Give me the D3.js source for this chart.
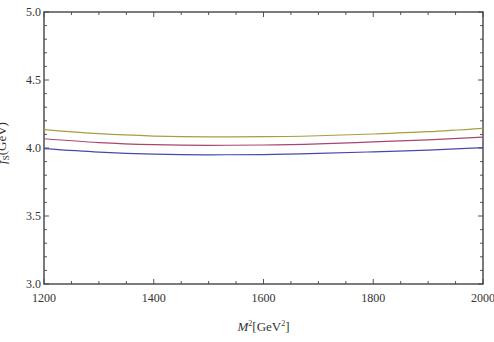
<!DOCTYPE html>
<html>
<head>
<meta charset="utf-8">
<script src="https://cdn.jsdelivr.net/npm/d3@7"></script>
<style>
  body { margin: 0; background: #fff; }
  svg text { font-family: "Liberation Serif", "DejaVu Serif", serif; fill: #333; }
</style>
</head>
<body>
<div id="chart"></div>
<script>
// M^2 sample points (GeV^2)
const massSq = [1200, 1300, 1400, 1500, 1600, 1700, 1800, 1900, 2000];
// three curves
const upperCurve = [4.135, 4.105, 4.088, 4.082, 4.083, 4.090, 4.103, 4.120, 4.145];
const middleCurve = [4.068, 4.040, 4.025, 4.020, 4.022, 4.030, 4.045, 4.060, 4.080];
const lowerCurve = [3.995, 3.970, 3.955, 3.950, 3.952, 3.960, 3.972, 3.985, 4.003];
const xTicks = [1200, 1400, 1600, 1800, 2000];
const yTicks = [3.0, 3.5, 4.0, 4.5, 5.0];

const width = 494, height = 342;
const margin = { top: 12, right: 11, bottom: 58, left: 44 };

const svg = d3.select('#chart').append('svg')
  .attr('width', width)
  .attr('height', height);

const x = d3.scaleLinear().domain([1200, 2000]).range([margin.left, width - margin.right]);
const y = d3.scaleLinear().domain([3.0, 5.0]).range([height - margin.bottom, margin.top]);

const x0 = margin.left, x1 = width - margin.right;
const y0 = height - margin.bottom, y1 = margin.top;

// minor ticks
const xMinor = d3.range(1200, 2001, 50).filter(v => v % 200 !== 0);
const yMinor = d3.range(30, 51, 1).map(v => v / 10).filter(v => Math.round(v * 10) % 5 !== 0);

const ticks = svg.append('g').attr('stroke', '#555').attr('stroke-width', 1);
xTicks.forEach(v => {
  ticks.append('line').attr('x1', x(v)).attr('x2', x(v)).attr('y1', y0).attr('y2', y0 - 5);
  ticks.append('line').attr('x1', x(v)).attr('x2', x(v)).attr('y1', y1).attr('y2', y1 + 5);
});
xMinor.forEach(v => {
  ticks.append('line').attr('x1', x(v)).attr('x2', x(v)).attr('y1', y0).attr('y2', y0 - 3);
  ticks.append('line').attr('x1', x(v)).attr('x2', x(v)).attr('y1', y1).attr('y2', y1 + 3);
});
yTicks.forEach(v => {
  ticks.append('line').attr('x1', x0).attr('x2', x0 + 5).attr('y1', y(v)).attr('y2', y(v));
  ticks.append('line').attr('x1', x1).attr('x2', x1 - 5).attr('y1', y(v)).attr('y2', y(v));
});
yMinor.forEach(v => {
  ticks.append('line').attr('x1', x0).attr('x2', x0 + 3).attr('y1', y(v)).attr('y2', y(v));
  ticks.append('line').attr('x1', x1).attr('x2', x1 - 3).attr('y1', y(v)).attr('y2', y(v));
});

// frame
svg.append('rect')
  .attr('x', x0).attr('y', y1)
  .attr('width', x1 - x0).attr('height', y0 - y1)
  .attr('fill', 'none')
  .attr('stroke', '#444')
  .attr('stroke-width', 1.4);

// tick labels
svg.selectAll('.xlab').data(xTicks).enter().append('text')
  .attr('x', d => x(d)).attr('y', y0 + 18)
  .attr('text-anchor', 'middle')
  .style('font-size', '12px')
  .text(d => d);

svg.selectAll('.ylab').data(yTicks).enter().append('text')
  .attr('x', x0 - 3).attr('y', d => y(d) + 4)
  .attr('text-anchor', 'end')
  .style('font-size', '12px')
  .text(d => d.toFixed(1));

// axis titles
const xt = svg.append('text')
  .attr('x', (x0 + x1) / 2).attr('y', y0 + 47)
  .attr('text-anchor', 'middle')
  .style('font-size', '13px');
xt.append('tspan').style('font-style', 'italic').text('M');
xt.append('tspan').attr('dy', -5).style('font-size', '8px').text('2');
xt.append('tspan').attr('dy', 5).text('[GeV');
xt.append('tspan').attr('dy', -5).style('font-size', '8px').text('2');
xt.append('tspan').attr('dy', 5).text(']');

const yt = svg.append('text')
  .attr('transform', `translate(6,${(y0 + y1) / 2 - 5}) rotate(-90)`)
  .attr('text-anchor', 'middle')
  .style('font-size', '13px');
yt.append('tspan').style('font-style', 'italic').text('f');
yt.append('tspan').attr('dy', 3).style('font-size', '9px').text('S');
yt.append('tspan').attr('dy', -3).text('(GeV)');

// curves
const series = [
  { values: upperCurve, color: '#a89d45' },
  { values: middleCurve, color: '#a8466d' },
  { values: lowerCurve, color: '#4848a8' }
];

const line = d3.line()
  .x((d, i) => x(massSq[i]))
  .y(d => y(d))
  .curve(d3.curveMonotoneX);

series.forEach(s => {
  svg.append('path')
    .datum(s.values)
    .attr('fill', 'none')
    .attr('stroke', s.color)
    .attr('stroke-width', 1.2)
    .attr('d', line);
});
</script>
</body>
</html>
